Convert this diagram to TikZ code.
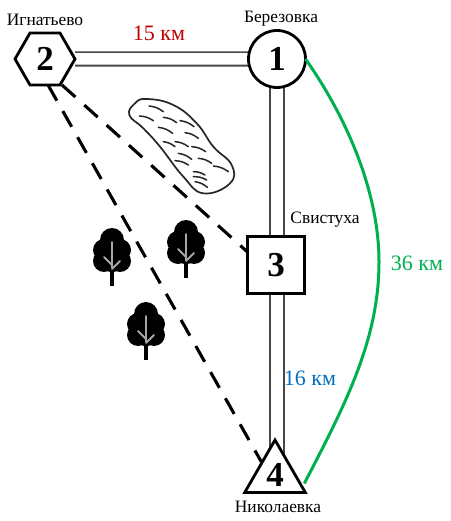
\documentclass[tikz,border=0pt]{standalone}
\usepackage{fontspec}
\setmainfont{Liberation Serif}
\usetikzlibrary{shapes.geometric,backgrounds}
\definecolor{kmred}{HTML}{C00000}
\definecolor{kmgreen}{HTML}{00B050}
\definecolor{kmblue}{HTML}{0070C0}
\tikzset{
 station/.style={draw=black,fill=white,line width=2.8pt,inner sep=0pt,outer sep=0pt,font=\fontsize{35}{35}\selectfont\bfseries\rmfamily},
 road/.style={draw=black!72,double=white,double distance=11.5pt,line width=1.8pt},
 track/.style={draw=black,line width=3.1pt,dash pattern=on 18pt off 12pt},
 place/.style={font=\fontsize{17.4}{18}\selectfont,inner sep=0pt},
 dist/.style={font=\fontsize{22}{23}\selectfont,inner sep=0pt},
 lakeline/.style={draw=black!85,line width=1.5pt,line cap=round},
 tree/.pic={
  \fill[black] (0,12) circle (12) (-8,22) circle (11) (8,22) circle (11) (-8,33) circle (11) (8,33) circle (11) (0,30) circle (14);
  \fill[black] (-2,30) rectangle (2,58);
  \draw[white!65!black,line width=1.8pt,line cap=round] (0,14) -- (0,40) (0,37) -- (-8,29) (0,41) -- (8,33);
 }
}
\begin{document}
\begin{tikzpicture}[x=1pt,y=-1pt]
\useasboundingbox (0,0) rectangle (450,521);
\node[station,circle,minimum size=57pt] (n1) at (277,59) {1};
\node[station,regular polygon,regular polygon sides=6,minimum size=60pt] (n2) at (45,59) {2};
\node[station,rectangle,minimum size=57pt] (n3) at (276,265) {3};
\node[station,regular polygon,regular polygon sides=3,minimum size=70pt] (n4) at (275,475) {4};
\begin{pgfonlayer}{background}
\fill[white] (0,0) rectangle (450,521);
\draw[road] (n2) -- (n1);
\draw[road] (n1.center) -- (n1.center |- n3.center);
\draw[road] (n1.center |- n3.center) -- (n1.center |- n4.center);
\end{pgfonlayer}
\draw[track] ([xshift=3pt]n2.south) -- ([xshift=-13pt,yshift=12pt]n4.center);
\draw[track] ([xshift=17pt]n2.south) -- ([yshift=13pt]n3.west);
\draw[kmgreen,line width=3pt] (n1.east) .. controls (345,115) and (379,190) .. (379,262) .. controls (379,340) and (345,405) .. ([xshift=-1pt,yshift=9pt]n4.corner 3);
\node[place] (l1) at (281,19) {Березовка};
\node[place] (l2) at (45,20) {Игнатьево};
\node[place] (l3) at (325,220) {Свистуха};
\node[place] (l4) at (278,507) {Николаевка};
\node[dist,text=kmred] (d1) at (159,33) {15 км};
\node[dist,text=kmgreen] (d2) at (417,263) {36 км};
\node[dist,text=kmblue] (d3) at (310,378) {16 км};
\begin{scope}[scale=1/3]
\draw[lakeline,line width=1.7pt] plot[smooth cycle,tension=0.75] coordinates {(388,345) (405,310) (440,297) (520,315) (590,370) (640,440) (695,495) (690,550) (610,580) (550,530) (480,440) (430,385)};
\foreach \a/\b/\c/\d in {447/318/490/335,418/348/460/362,490/352/530/368,540/362/582/380,475/382/518/400,555/398/595/415,490/425/525/440,525/425/565/440,575/440/617/455,535/460/575/478,595/475/635/490,525/482/565/495,640/498/685/515,580/515/615/525,580/530/620/540,585/545/622/562}
 \draw[lakeline] (\a,\b) to[bend left=15] (\c,\d);
\end{scope}
\pic at (112,228) {tree};
\pic at (186,220) {tree};
\pic at (146,302) {tree};
\end{tikzpicture}
\end{document}
